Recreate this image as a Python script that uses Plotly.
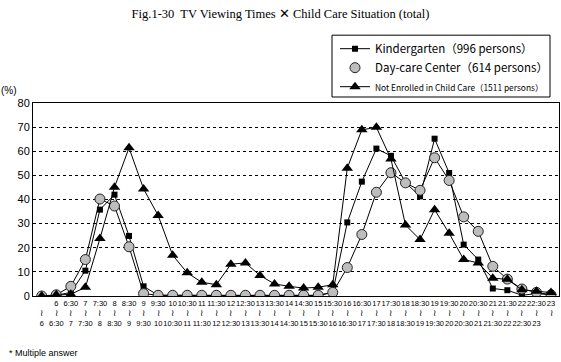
import plotly.graph_objects as go

start_labels = ["", "6", "6:30", "7", "7:30", "8", "8:30", "9", "9:30", "10", "10:30", "11", "11:30",
                "12", "12:30", "13", "13:30", "14", "14:30", "15", "15:30", "16", "16:30", "17",
                "17:30", "18", "18:30", "19", "19:30", "20", "20:30", "21", "21:30", "22", "22:30", "23"]
end_labels = ["6", "6:30", "7", "7:30", "8", "8:30", "9", "9:30", "10", "10:30", "11", "11:30",
              "12", "12:30", "13", "13:30", "14", "14:30", "15", "15:30", "16", "16:30", "17",
              "17:30", "18", "18:30", "19", "19:30", "20", "20:30", "21", "21:30", "22", "22:30", "23", ""]

kindergarten = [0, 0.3, 1.5, 10.5, 35.8, 42.0, 24.9, 4.0, 0.3, 0.2, 0.2, 0.2, 0.2, 0.2, 0.2, 0.2,
                0.2, 0.2, 0.2, 0.2, 1.5, 30.5, 47.4, 61.1, 58.1, 47.0, 41.3, 65.2, 51.0, 21.3,
                15.1, 3.1, 2.4, 0.3, 1.0, 0.5]
daycare = [0, 0.5, 4.0, 15.1, 40.2, 37.3, 20.4, 1.0, 0.3, 0.3, 0.3, 0.3, 0.3, 0.3, 0.3, 0.3,
           0.3, 0.3, 0.3, 0.3, 1.5, 11.8, 25.5, 43.0, 51.1, 46.9, 43.8, 57.3, 47.9, 32.8,
           26.8, 12.3, 7.0, 2.9, 1.5, 0.5]
not_enrolled = [0, 0.5, 0.7, 3.6, 23.8, 45.1, 61.4, 44.4, 33.4, 16.9, 9.6, 5.7, 4.7, 13.2, 13.7,
                8.5, 5.0, 4.0, 3.3, 3.6, 4.7, 53.0, 68.9, 69.9, 56.8, 29.4, 23.4, 35.8, 26.0,
                15.1, 13.7, 7.4, 6.9, 2.6, 2.0, 1.4]

x = list(range(len(start_labels)))
ticktext = [f"{s}<br><span style='font-size:9px'>≀</span><br>{e}" for s, e in zip(start_labels, end_labels)]

fig = go.Figure()
fig.add_trace(go.Scatter(
    x=x, y=kindergarten, mode="lines+markers",
    name="Kindergarten（996 persons）",
    line=dict(color="black", width=1),
    marker=dict(symbol="square", size=6, color="black"),
))
fig.add_trace(go.Scatter(
    x=x, y=daycare, mode="lines", showlegend=False,
    line=dict(color="black", width=1), hoverinfo="skip",
))
fig.add_trace(go.Scatter(
    x=x, y=daycare, mode="markers",
    name="Day-care Center（614 persons）",
    marker=dict(symbol="circle", size=10, color="#bdbdbd", line=dict(color="#222222", width=1)),
))
fig.add_trace(go.Scatter(
    x=x, y=not_enrolled, mode="lines+markers",
    name="<span style='font-size:8.4px'>Not Enrolled in Child Care（1511 persons）</span>",
    line=dict(color="black", width=1),
    marker=dict(symbol="triangle-up", size=10, color="black"),
))

# plot area: x 33..559, y 103..296.5
fig.update_layout(
    width=561, height=362,
    margin=dict(l=33, r=2, t=103, b=66),
    paper_bgcolor="white", plot_bgcolor="white",
    font=dict(family="Liberation Sans, Arial, sans-serif", color="black", size=10),
    title=dict(text="Fig.1-30  TV Viewing Times ✕ Child Care Situation (total)",
               x=0.5, xanchor="center", y=0.962, yanchor="middle",
               font=dict(family="Liberation Serif, Times New Roman, serif", size=12.5, color="black")),
    legend=dict(
        x=(335 - 33) / 526, y=(296.5 - 34) / 193.5, xanchor="left", yanchor="top",
        bgcolor="rgba(0,0,0,0)", borderwidth=0,
        font=dict(family="Noto Sans CJK JP, Noto Sans, sans-serif", size=11.5, color="black"),
        tracegroupgap=0, itemwidth=30,
    ),
    showlegend=True,
    shapes=[dict(type="rect", xref="paper", yref="paper",
                 x0=(332 - 33) / 526, x1=(550 - 33) / 526,
                 y0=(296.5 - 97) / 193.5, y1=(296.5 - 35) / 193.5,
                 line=dict(color="black", width=1), fillcolor="white", layer="below")],
)
fig.update_xaxes(
    range=[-0.6, 35.55], tickmode="array", tickvals=x, ticktext=ticktext,
    tickangle=0, showgrid=False, zeroline=False,
    showline=True, linecolor="black", linewidth=1, mirror=True,
    tickfont=dict(family="Liberation Sans, Arial, sans-serif", size=7.5),
    ticks="",
)
fig.update_yaxes(
    range=[0, 80], tickvals=[0, 10, 20, 30, 40, 50, 60, 70, 80],
    showgrid=True, gridcolor="black", griddash="dot", gridwidth=1,
    zeroline=False, showline=True, linecolor="black", linewidth=1, mirror=True,
    tickfont=dict(family="Liberation Sans, Arial, sans-serif", size=11),
    ticks="",
)
fig.add_annotation(text="(%)", xref="paper", yref="paper", x=-0.045, y=1.065,
                   xanchor="center", yanchor="middle", showarrow=False,
                   font=dict(size=10, family="Liberation Sans, Arial, sans-serif"))
fig.add_annotation(text="* Multiple answer", xref="paper", yref="paper", x=-0.05, y=-0.295,
                   xanchor="left", yanchor="middle", showarrow=False,
                   font=dict(size=9, family="Liberation Sans, Arial, sans-serif"))

fig.write_html("out.html", config={"displayModeBar": False},
               post_script="document.body.style.margin='0';document.body.style.padding='0';")
